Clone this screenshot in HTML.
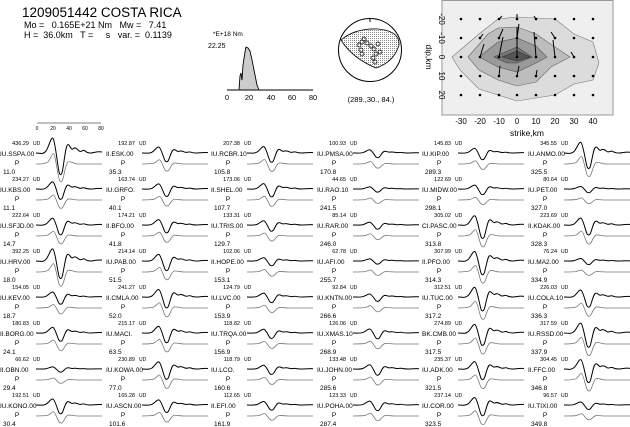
<!DOCTYPE html>
<html><head><meta charset="utf-8"><style>
html,body{margin:0;padding:0;background:#fff}
svg{display:block;font-family:"Liberation Sans",sans-serif}
.a{font-size:5.5px;text-anchor:end}
.u{font-size:5px}
.s{font-size:6.5px}
.p{font-size:6.5px;text-anchor:middle}
.b{fill:none;stroke:#000;stroke-width:1;vector-effect:non-scaling-stroke;stroke-linejoin:round}
.g{fill:none;stroke:#777;stroke-width:0.8;vector-effect:non-scaling-stroke;stroke-linejoin:round}
</style></head><body>
<svg width="630" height="427" viewBox="0 0 630 427" xmlns="http://www.w3.org/2000/svg">
<defs>
<path id="b" class="b" d="M0,0 C4,0 7,1 10,-1 C13,-3 15,-8 17,-7 C19,-6 21,4 23,9 C24,11 26,11 27,7 C29,1 30,-4 32,-4 C34,-4 35,-1 37,-2 C39,-3 41,-2 43,-1 C45,0 47,-2 49,-1 C51,0 53,0 55,0 C58,0 61,-1 66,-0.5"/>
<path id="g" class="g" d="M0,0 C5,0 9,0 12,-1 C14,-2 16,-5 17.5,-5 C19,-5 21,3 23,7 C24.5,9 26,9 27.5,6 C29,3 30,0 32,-1 C35,-1.5 38,0 42,0 L66,0"/>
</defs>
<text x="22" y="17" style="font-size:13.5px">1209051442 COSTA RICA</text>
<text x="24" y="28" style="font-size:9px" xml:space="preserve">Mo =   0.165E+21 Nm   Mw =   7.41</text>
<text x="24" y="38" style="font-size:9px" xml:space="preserve">H =  36.0km   T =     s   var. =  0.1139</text>
<!-- STF -->
<text x="213" y="36" style="font-size:6.5px">*E+18 Nm</text>
<text x="208" y="48" style="font-size:7px">22.25</text>
<path d="M239,90 L240,76 L241,73 L242,80 L243,65 L245,52 L246,47 L248,48 L250,51 L252,60 L255,75 L257,85 L259,90 Z" fill="#ccc" stroke="#000" stroke-width="0.9"/>
<line x1="227" y1="90" x2="313" y2="90" stroke="#333" stroke-width="1.3"/>
<g style="font-size:7.5px" text-anchor="middle"><text x="227" y="100">0</text><text x="249" y="100">20</text><text x="271" y="100">40</text><text x="292" y="100">60</text><text x="313" y="100">80</text></g>
<!-- scale bar -->
<line x1="37" y1="123" x2="101" y2="123" stroke="#000" stroke-width="0.5"/>
<g style="font-size:5px" text-anchor="middle"><text x="37" y="130">0</text><text x="53" y="130">20</text><text x="69" y="130">40</text><text x="85" y="130">60</text><text x="101" y="130">80</text></g>
<!-- beachball -->
<defs><pattern id="dots" width="2" height="2" patternUnits="userSpaceOnUse"><rect width="2" height="2" fill="#fff"/><rect width="1" height="1" fill="#888"/></pattern></defs>
<circle cx="370" cy="50" r="31.5" fill="#fff" stroke="#000" stroke-width="1"/>
<line x1="370" y1="18" x2="370" y2="22" stroke="#000"/>
<path d="M341,40 Q355,28 378,29 Q400,31 399,45 Q394,62 376,68 Q352,58 341,40 Z" fill="url(#dots)" stroke="#000" stroke-width="0.8"/>
<g fill="none" stroke="#000" stroke-width="0.7"><circle cx="362" cy="42" r="2"/><circle cx="359" cy="45" r="2"/><circle cx="364" cy="39" r="2"/><circle cx="367" cy="43" r="2"/><circle cx="371" cy="46" r="2"/><circle cx="374" cy="49" r="2"/><circle cx="376" cy="54" r="2"/><circle cx="373" cy="58" r="2"/><circle cx="375" cy="62" r="2"/><circle cx="361" cy="50" r="2"/><circle cx="362" cy="54" r="2"/><circle cx="378" cy="44" r="2"/><circle cx="380" cy="52" r="2"/></g>
<text x="371" y="102" text-anchor="middle" style="font-size:7.5px">(289.,30.,  84.)</text>
<!-- slip -->
<rect x="442" y="0.5" width="171" height="114.5" fill="#efefef" stroke="#999" stroke-width="1"/>
<path d="M452,57 L479,34 L498,19 L517,17 L555,19 L574,34 L593,42 L599,63 L593,80 L574,84 L555,95 L517,101 L479,89 L460,70 Z" fill="#dcdcdc" stroke="#777" stroke-width="0.6"/>
<path d="M468,57 L488,34 L498,28 L517,27 L536,34 L555,47 L570,57 L551,67 L536,82 L517,86 L498,80 L479,70 Z" fill="#bdbdbd" stroke="#666" stroke-width="0.6"/>
<path d="M479,57 L498,42 L517,38 L536,46 L547,57 L536,63 L517,72 L498,67 Z" fill="#999" stroke="#555" stroke-width="0.6"/>
<path d="M494,57 L517,47 L532,57 L517,63 L507,63 Z" fill="#777" stroke="#444" stroke-width="0.6"/>
<path d="M502,57 L517,51 L530,57 L517,61 Z" fill="#555" stroke="#333" stroke-width="0.6"/>
<g fill="#000">
<circle cx="461" cy="19" r="1.3"/><circle cx="480" cy="19" r="1.3"/><circle cx="499" cy="19" r="1.3"/><circle cx="517" cy="19" r="1.3"/><circle cx="536" cy="19" r="1.3"/><circle cx="555" cy="19" r="1.3"/><circle cx="574" cy="19" r="1.3"/><circle cx="593" cy="19" r="1.3"/>
<circle cx="461" cy="38" r="1.3"/><circle cx="480" cy="38" r="1.3"/><circle cx="499" cy="38" r="1.3"/><circle cx="517" cy="38" r="1.3"/><circle cx="536" cy="38" r="1.3"/><circle cx="555" cy="38" r="1.3"/><circle cx="574" cy="38" r="1.3"/><circle cx="593" cy="38" r="1.3"/>
<circle cx="461" cy="57" r="1.3"/><circle cx="480" cy="57" r="1.3"/><circle cx="499" cy="57" r="1.3"/><circle cx="517" cy="57" r="1.3"/><circle cx="536" cy="57" r="1.3"/><circle cx="555" cy="57" r="1.3"/><circle cx="574" cy="57" r="1.3"/><circle cx="593" cy="57" r="1.3"/>
<circle cx="461" cy="76" r="1.3"/><circle cx="480" cy="76" r="1.3"/><circle cx="499" cy="76" r="1.3"/><circle cx="517" cy="76" r="1.3"/><circle cx="536" cy="76" r="1.3"/><circle cx="555" cy="76" r="1.3"/><circle cx="574" cy="76" r="1.3"/><circle cx="593" cy="76" r="1.3"/>
<circle cx="461" cy="95" r="1.3"/><circle cx="480" cy="95" r="1.3"/><circle cx="499" cy="95" r="1.3"/><circle cx="517" cy="95" r="1.3"/><circle cx="536" cy="95" r="1.3"/><circle cx="555" cy="95" r="1.3"/><circle cx="574" cy="95" r="1.3"/><circle cx="593" cy="95" r="1.3"/>
</g>
<g stroke="#000" stroke-width="1">
<line x1="517" y1="57" x2="517" y2="27"/><line x1="499" y1="57" x2="503" y2="37"/><line x1="536" y1="57" x2="534" y2="32"/><line x1="480" y1="57" x2="484" y2="44"/><line x1="499" y1="38" x2="503" y2="29"/><line x1="517" y1="38" x2="519" y2="24"/><line x1="499" y1="76" x2="500" y2="66"/><line x1="517" y1="76" x2="519" y2="66"/><line x1="536" y1="76" x2="537" y2="70"/><line x1="555" y1="38" x2="551" y2="32"/><line x1="555" y1="57" x2="553" y2="40"/><line x1="480" y1="38" x2="483" y2="34"/><line x1="574" y1="57" x2="571" y2="52"/><line x1="517" y1="19" x2="517" y2="14"/><line x1="499" y1="19" x2="502" y2="16"/><line x1="536" y1="19" x2="534" y2="16"/>
</g>
<g style="font-size:8px" text-anchor="middle"><text x="461" y="124">-30</text><text x="480" y="124">-20</text><text x="499" y="124">-10</text><text x="517" y="124">0</text><text x="536" y="124">10</text><text x="555" y="124">20</text><text x="574" y="124">30</text><text x="593" y="124">40</text></g>
<text x="527" y="136" text-anchor="middle" style="font-size:8.5px">strike,km</text>
<g style="font-size:8px" text-anchor="middle">
<text transform="translate(439,19) rotate(90)">-20</text><text transform="translate(439,38) rotate(90)">-10</text><text transform="translate(439,57) rotate(90)">0</text><text transform="translate(439,76) rotate(90)">10</text><text transform="translate(439,95) rotate(90)">20</text>
<text transform="translate(426,57) rotate(90)" style="font-size:8.5px">dip,km</text>
</g>

<!-- col0 -->
<g transform="translate(0,143)"><text x="29" y="2" class="a">436.29</text><text x="33" y="2" class="u">UD</text><text y="13" class="s">IU.SSPA.00</text><text x="17" y="22" class="p">P</text><text x="3" y="31" class="s">11.0</text><use href="#b" transform="translate(36,10) scale(1,2.1)"/><use href="#g" transform="translate(36,21) scale(1,2.1)"/></g>
<g transform="translate(0,179)"><text x="29" y="2" class="a">234.27</text><text x="33" y="2" class="u">UD</text><text y="13" class="s">IU.KBS.00</text><text x="17" y="22" class="p">P</text><text x="3" y="31" class="s">11.1</text><use href="#b" transform="translate(36,10) scale(1,1.0)"/><use href="#g" transform="translate(36,21) scale(1,1.0)"/></g>
<g transform="translate(0,215)"><text x="29" y="2" class="a">222.64</text><text x="33" y="2" class="u">UD</text><text y="13" class="s">IU.SFJD.00</text><text x="17" y="22" class="p">P</text><text x="3" y="31" class="s">14.7</text><use href="#b" transform="translate(36,10) scale(1,0.95)"/><use href="#g" transform="translate(36,21) scale(1,0.95)"/></g>
<g transform="translate(0,251)"><text x="29" y="2" class="a">392.25</text><text x="33" y="2" class="u">UD</text><text y="13" class="s">IU.HRV.00</text><text x="17" y="22" class="p">P</text><text x="3" y="31" class="s">18.0</text><use href="#b" transform="translate(36,10) scale(1,1.7)"/><use href="#g" transform="translate(36,21) scale(1,1.7)"/></g>
<g transform="translate(0,287)"><text x="29" y="2" class="a">154.05</text><text x="33" y="2" class="u">UD</text><text y="13" class="s">IU.KEV.00</text><text x="17" y="22" class="p">P</text><text x="3" y="31" class="s">18.7</text><use href="#b" transform="translate(36,10) scale(1,0.7)"/><use href="#g" transform="translate(36,21) scale(1,0.7)"/></g>
<g transform="translate(0,323)"><text x="29" y="2" class="a">180.83</text><text x="33" y="2" class="u">UD</text><text y="13" class="s">II.BORG.00</text><text x="17" y="22" class="p">P</text><text x="3" y="31" class="s">24.1</text><use href="#b" transform="translate(36,10) scale(1,0.8)"/><use href="#g" transform="translate(36,21) scale(1,0.8)"/></g>
<g transform="translate(0,359)"><text x="29" y="2" class="a">66.62</text><text x="33" y="2" class="u">UD</text><text y="13" class="s">II.OBN.00</text><text x="17" y="22" class="p">P</text><text x="3" y="31" class="s">29.4</text><use href="#b" transform="translate(36,10) scale(1,0.3)"/><use href="#g" transform="translate(36,21) scale(1,0.4)"/></g>
<g transform="translate(0,395)"><text x="29" y="2" class="a">192.51</text><text x="33" y="2" class="u">UD</text><text y="13" class="s">IU.KONO.00</text><text x="17" y="22" class="p">P</text><text x="3" y="31" class="s">30.4</text><use href="#b" transform="translate(36,10) scale(1,0.85)"/><use href="#g" transform="translate(36,21) scale(1,0.85)"/></g>
<!-- col1 -->
<g transform="translate(106,143)"><text x="29" y="2" class="a">192.87</text><text x="33" y="2" class="u">UD</text><text y="13" class="s">II.ESK.00</text><text x="17" y="22" class="p">P</text><text x="3" y="31" class="s">35.3</text><use href="#b" transform="translate(36,10) scale(1,0.85)"/><use href="#g" transform="translate(36,21) scale(1,0.85)"/></g>
<g transform="translate(106,179)"><text x="29" y="2" class="a">163.74</text><text x="33" y="2" class="u">UD</text><text y="13" class="s">IU.GRFO.</text><text x="17" y="22" class="p">P</text><text x="3" y="31" class="s">40.1</text><use href="#b" transform="translate(36,10) scale(1,0.72)"/><use href="#g" transform="translate(36,21) scale(1,0.72)"/></g>
<g transform="translate(106,215)"><text x="29" y="2" class="a">174.21</text><text x="33" y="2" class="u">UD</text><text y="13" class="s">II.BFO.00</text><text x="17" y="22" class="p">P</text><text x="3" y="31" class="s">41.8</text><use href="#b" transform="translate(36,10) scale(1,0.76)"/><use href="#g" transform="translate(36,21) scale(1,0.76)"/></g>
<g transform="translate(106,251)"><text x="29" y="2" class="a">214.14</text><text x="33" y="2" class="u">UD</text><text y="13" class="s">IU.PAB.00</text><text x="17" y="22" class="p">P</text><text x="3" y="31" class="s">51.5</text><use href="#b" transform="translate(36,10) scale(1,0.93)"/><use href="#g" transform="translate(36,21) scale(1,0.93)"/></g>
<g transform="translate(106,287)"><text x="29" y="2" class="a">241.27</text><text x="33" y="2" class="u">UD</text><text y="13" class="s">II.CMLA.00</text><text x="17" y="22" class="p">P</text><text x="3" y="31" class="s">52.0</text><use href="#b" transform="translate(36,10) scale(1,1.05)"/><use href="#g" transform="translate(36,21) scale(1,1.05)"/></g>
<g transform="translate(106,323)"><text x="29" y="2" class="a">215.17</text><text x="33" y="2" class="u">UD</text><text y="13" class="s">IU.MACI.</text><text x="17" y="22" class="p">P</text><text x="3" y="31" class="s">63.5</text><use href="#b" transform="translate(36,10) scale(1,0.94)"/><use href="#g" transform="translate(36,21) scale(1,0.94)"/></g>
<g transform="translate(106,359)"><text x="29" y="2" class="a">230.89</text><text x="33" y="2" class="u">UD</text><text y="13" class="s">IU.KOWA.00</text><text x="17" y="22" class="p">P</text><text x="3" y="31" class="s">77.0</text><use href="#b" transform="translate(36,10) scale(1,1.0)"/><use href="#g" transform="translate(36,21) scale(1,1.0)"/></g>
<g transform="translate(106,395)"><text x="29" y="2" class="a">165.28</text><text x="33" y="2" class="u">UD</text><text y="13" class="s">IU.ASCN.00</text><text x="17" y="22" class="p">P</text><text x="3" y="31" class="s">101.6</text><use href="#b" transform="translate(36,10) scale(1,0.72)"/><use href="#g" transform="translate(36,21) scale(1,0.72)"/></g>
<!-- col2 -->
<g transform="translate(211,143)"><text x="29" y="2" class="a">207.38</text><text x="33" y="2" class="u">UD</text><text y="13" class="s">IU.RCBR.10</text><text x="17" y="22" class="p">P</text><text x="3" y="31" class="s">105.8</text><use href="#b" transform="translate(36,10) scale(1,0.9)"/><use href="#g" transform="translate(36,21) scale(1,0.9)"/></g>
<g transform="translate(211,179)"><text x="29" y="2" class="a">173.06</text><text x="33" y="2" class="u">UD</text><text y="13" class="s">II.SHEL.00</text><text x="17" y="22" class="p">P</text><text x="3" y="31" class="s">107.7</text><use href="#b" transform="translate(36,10) scale(1,0.76)"/><use href="#g" transform="translate(36,21) scale(1,0.76)"/></g>
<g transform="translate(211,215)"><text x="29" y="2" class="a">133.31</text><text x="33" y="2" class="u">UD</text><text y="13" class="s">IU.TRIS.00</text><text x="17" y="22" class="p">P</text><text x="3" y="31" class="s">129.7</text><use href="#b" transform="translate(36,10) scale(1,0.6)"/><use href="#g" transform="translate(36,21) scale(1,0.6)"/></g>
<g transform="translate(211,251)"><text x="29" y="2" class="a">102.06</text><text x="33" y="2" class="u">UD</text><text y="13" class="s">II.HOPE.00</text><text x="17" y="22" class="p">P</text><text x="3" y="31" class="s">153.1</text><use href="#b" transform="translate(36,10) scale(1,0.46)"/><use href="#g" transform="translate(36,21) scale(1,0.5)"/></g>
<g transform="translate(211,287)"><text x="29" y="2" class="a">124.79</text><text x="33" y="2" class="u">UD</text><text y="13" class="s">IU.LVC.00</text><text x="17" y="22" class="p">P</text><text x="3" y="31" class="s">153.9</text><use href="#b" transform="translate(36,10) scale(1,0.55)"/><use href="#g" transform="translate(36,21) scale(1,0.55)"/></g>
<g transform="translate(211,323)"><text x="29" y="2" class="a">118.82</text><text x="33" y="2" class="u">UD</text><text y="13" class="s">IU.TRQA.00</text><text x="17" y="22" class="p">P</text><text x="3" y="31" class="s">156.9</text><use href="#b" transform="translate(36,10) scale(1,0.53)"/><use href="#g" transform="translate(36,21) scale(1,0.53)"/></g>
<g transform="translate(211,359)"><text x="29" y="2" class="a">118.79</text><text x="33" y="2" class="u">UD</text><text y="13" class="s">IU.LCO.</text><text x="17" y="22" class="p">P</text><text x="3" y="31" class="s">160.6</text><use href="#b" transform="translate(36,10) scale(1,0.53)"/><use href="#g" transform="translate(36,21) scale(1,0.53)"/></g>
<g transform="translate(211,395)"><text x="29" y="2" class="a">112.65</text><text x="33" y="2" class="u">UD</text><text y="13" class="s">II.EFI.00</text><text x="17" y="22" class="p">P</text><text x="3" y="31" class="s">161.9</text><use href="#b" transform="translate(36,10) scale(1,0.5)"/><use href="#g" transform="translate(36,21) scale(1,0.5)"/></g>
<!-- col3 -->
<g transform="translate(317,143)"><text x="29" y="2" class="a">100.93</text><text x="33" y="2" class="u">UD</text><text y="13" class="s">IU.PMSA.00</text><text x="17" y="22" class="p">P</text><text x="3" y="31" class="s">170.8</text><use href="#b" transform="translate(36,10) scale(1,0.45)"/><use href="#g" transform="translate(36,21) scale(1,0.5)"/></g>
<g transform="translate(317,179)"><text x="29" y="2" class="a">44.65</text><text x="33" y="2" class="u">UD</text><text y="13" class="s">IU.RAO.10</text><text x="17" y="22" class="p">P</text><text x="3" y="31" class="s">241.5</text><use href="#b" transform="translate(36,10) scale(1,0.3)"/><use href="#g" transform="translate(36,21) scale(1,0.4)"/></g>
<g transform="translate(317,215)"><text x="29" y="2" class="a">85.14</text><text x="33" y="2" class="u">UD</text><text y="13" class="s">IU.RAR.00</text><text x="17" y="22" class="p">P</text><text x="3" y="31" class="s">246.0</text><use href="#b" transform="translate(36,10) scale(1,0.4)"/><use href="#g" transform="translate(36,21) scale(1,0.45)"/></g>
<g transform="translate(317,251)"><text x="29" y="2" class="a">62.78</text><text x="33" y="2" class="u">UD</text><text y="13" class="s">IU.AFI.00</text><text x="17" y="22" class="p">P</text><text x="3" y="31" class="s">255.7</text><use href="#b" transform="translate(36,10) scale(1,0.3)"/><use href="#g" transform="translate(36,21) scale(1,0.4)"/></g>
<g transform="translate(317,287)"><text x="29" y="2" class="a">92.84</text><text x="33" y="2" class="u">UD</text><text y="13" class="s">IU.KNTN.00</text><text x="17" y="22" class="p">P</text><text x="3" y="31" class="s">266.6</text><use href="#b" transform="translate(36,10) scale(1,0.42)"/><use href="#g" transform="translate(36,21) scale(1,0.46)"/></g>
<g transform="translate(317,323)"><text x="29" y="2" class="a">126.06</text><text x="33" y="2" class="u">UD</text><text y="13" class="s">IU.XMAS.10</text><text x="17" y="22" class="p">P</text><text x="3" y="31" class="s">268.9</text><use href="#b" transform="translate(36,10) scale(1,0.56)"/><use href="#g" transform="translate(36,21) scale(1,0.56)"/></g>
<g transform="translate(317,359)"><text x="29" y="2" class="a">133.48</text><text x="33" y="2" class="u">UD</text><text y="13" class="s">IU.JOHN.00</text><text x="17" y="22" class="p">P</text><text x="3" y="31" class="s">285.6</text><use href="#b" transform="translate(36,10) scale(1,0.6)"/><use href="#g" transform="translate(36,21) scale(1,0.6)"/></g>
<g transform="translate(317,395)"><text x="29" y="2" class="a">123.33</text><text x="33" y="2" class="u">UD</text><text y="13" class="s">IU.POHA.00</text><text x="17" y="22" class="p">P</text><text x="3" y="31" class="s">287.4</text><use href="#b" transform="translate(36,10) scale(1,0.55)"/><use href="#g" transform="translate(36,21) scale(1,0.55)"/></g>
<!-- col4 -->
<g transform="translate(422,143)"><text x="29" y="2" class="a">145.83</text><text x="33" y="2" class="u">UD</text><text y="13" class="s">IU.KIP.00</text><text x="17" y="22" class="p">P</text><text x="3" y="31" class="s">289.3</text><use href="#b" transform="translate(36,10) scale(1,0.65)"/><use href="#g" transform="translate(36,21) scale(1,0.65)"/></g>
<g transform="translate(422,179)"><text x="29" y="2" class="a">122.69</text><text x="33" y="2" class="u">UD</text><text y="13" class="s">IU.MIDW.00</text><text x="17" y="22" class="p">P</text><text x="3" y="31" class="s">298.1</text><use href="#b" transform="translate(36,10) scale(1,0.55)"/><use href="#g" transform="translate(36,21) scale(1,0.55)"/></g>
<g transform="translate(422,215)"><text x="29" y="2" class="a">305.02</text><text x="33" y="2" class="u">UD</text><text y="13" class="s">CI.PASC.00</text><text x="17" y="22" class="p">P</text><text x="3" y="31" class="s">313.8</text><use href="#b" transform="translate(36,10) scale(1,1.3)"/><use href="#g" transform="translate(36,21) scale(1,1.3)"/></g>
<g transform="translate(422,251)"><text x="29" y="2" class="a">307.99</text><text x="33" y="2" class="u">UD</text><text y="13" class="s">II.PFO.00</text><text x="17" y="22" class="p">P</text><text x="3" y="31" class="s">314.3</text><use href="#b" transform="translate(36,10) scale(1,1.33)"/><use href="#g" transform="translate(36,21) scale(1,1.33)"/></g>
<g transform="translate(422,287)"><text x="29" y="2" class="a">312.51</text><text x="33" y="2" class="u">UD</text><text y="13" class="s">IU.TUC.00</text><text x="17" y="22" class="p">P</text><text x="3" y="31" class="s">317.2</text><use href="#b" transform="translate(36,10) scale(1,1.35)"/><use href="#g" transform="translate(36,21) scale(1,1.35)"/></g>
<g transform="translate(422,323)"><text x="29" y="2" class="a">274.89</text><text x="33" y="2" class="u">UD</text><text y="13" class="s">BK.CMB.00</text><text x="17" y="22" class="p">P</text><text x="3" y="31" class="s">317.5</text><use href="#b" transform="translate(36,10) scale(1,1.2)"/><use href="#g" transform="translate(36,21) scale(1,1.2)"/></g>
<g transform="translate(422,359)"><text x="29" y="2" class="a">235.37</text><text x="33" y="2" class="u">UD</text><text y="13" class="s">IU.ADK.00</text><text x="17" y="22" class="p">P</text><text x="3" y="31" class="s">321.5</text><use href="#b" transform="translate(36,10) scale(1,1.03)"/><use href="#g" transform="translate(36,21) scale(1,1.03)"/></g>
<g transform="translate(422,395)"><text x="29" y="2" class="a">237.14</text><text x="33" y="2" class="u">UD</text><text y="13" class="s">IU.COR.00</text><text x="17" y="22" class="p">P</text><text x="3" y="31" class="s">323.5</text><use href="#b" transform="translate(36,10) scale(1,1.04)"/><use href="#g" transform="translate(36,21) scale(1,1.04)"/></g>
<!-- col5 -->
<g transform="translate(528,143)"><text x="29" y="2" class="a">345.55</text><text x="33" y="2" class="u">UD</text><text y="13" class="s">IU.ANMO.00</text><text x="17" y="22" class="p">P</text><text x="3" y="31" class="s">325.5</text><use href="#b" transform="translate(36,10) scale(1,1.5)"/><use href="#g" transform="translate(36,21) scale(1,1.5)"/></g>
<g transform="translate(528,179)"><text x="29" y="2" class="a">80.64</text><text x="33" y="2" class="u">UD</text><text y="13" class="s">IU.PET.00</text><text x="17" y="22" class="p">P</text><text x="3" y="31" class="s">327.0</text><use href="#b" transform="translate(36,10) scale(1,0.36)"/><use href="#g" transform="translate(36,21) scale(1,0.42)"/></g>
<g transform="translate(528,215)"><text x="29" y="2" class="a">223.69</text><text x="33" y="2" class="u">UD</text><text y="13" class="s">II.KDAK.00</text><text x="17" y="22" class="p">P</text><text x="3" y="31" class="s">328.3</text><use href="#b" transform="translate(36,10) scale(1,0.97)"/><use href="#g" transform="translate(36,21) scale(1,0.97)"/></g>
<g transform="translate(528,251)"><text x="29" y="2" class="a">76.24</text><text x="33" y="2" class="u">UD</text><text y="13" class="s">IU.MA2.00</text><text x="17" y="22" class="p">P</text><text x="3" y="31" class="s">334.9</text><use href="#b" transform="translate(36,10) scale(1,0.35)"/><use href="#g" transform="translate(36,21) scale(1,0.4)"/></g>
<g transform="translate(528,287)"><text x="29" y="2" class="a">226.03</text><text x="33" y="2" class="u">UD</text><text y="13" class="s">IU.COLA.10</text><text x="17" y="22" class="p">P</text><text x="3" y="31" class="s">336.3</text><use href="#b" transform="translate(36,10) scale(1,0.98)"/><use href="#g" transform="translate(36,21) scale(1,0.98)"/></g>
<g transform="translate(528,323)"><text x="29" y="2" class="a">317.59</text><text x="33" y="2" class="u">UD</text><text y="13" class="s">IU.RSSD.00</text><text x="17" y="22" class="p">P</text><text x="3" y="31" class="s">337.9</text><use href="#b" transform="translate(36,10) scale(1,1.38)"/><use href="#g" transform="translate(36,21) scale(1,1.38)"/></g>
<g transform="translate(528,359)"><text x="29" y="2" class="a">304.45</text><text x="33" y="2" class="u">UD</text><text y="13" class="s">II.FFC.00</text><text x="17" y="22" class="p">P</text><text x="3" y="31" class="s">346.8</text><use href="#b" transform="translate(36,10) scale(1,1.32)"/><use href="#g" transform="translate(36,21) scale(1,1.32)"/></g>
<g transform="translate(528,395)"><text x="29" y="2" class="a">96.57</text><text x="33" y="2" class="u">UD</text><text y="13" class="s">IU.TIXI.00</text><text x="17" y="22" class="p">P</text><text x="3" y="31" class="s">349.8</text><use href="#b" transform="translate(36,10) scale(1,0.43)"/><use href="#g" transform="translate(36,21) scale(1,0.45)"/></g>
</svg>
</body></html>
